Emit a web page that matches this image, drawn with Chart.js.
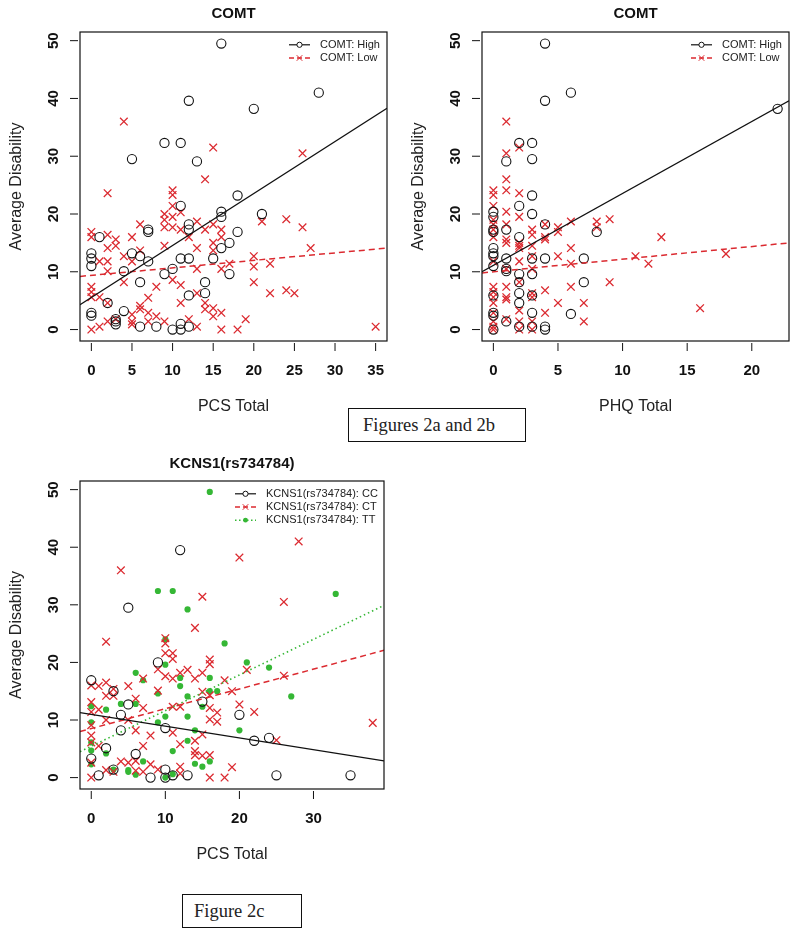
<!DOCTYPE html>
<html><head><meta charset="utf-8">
<script src="https://cdn.jsdelivr.net/npm/chart.js@4/dist/chart.umd.min.js"></script>
<style>
html,body{margin:0;padding:0;background:#fff;}
body{width:800px;height:937px;position:relative;overflow:hidden;}
canvas{position:absolute;}
.cap{position:absolute;border:1px solid #111;font-family:"Liberation Serif","Times New Roman",serif;font-size:18.5px;color:#222;background:#fff;box-sizing:border-box;line-height:22px;}
</style></head><body>
<canvas id="c1" width="400" height="420" style="left:0;top:0;width:400px;height:420px"></canvas>
<canvas id="c2" width="400" height="420" style="left:400px;top:0;width:400px;height:420px"></canvas>
<canvas id="c3" width="400" height="420" style="left:0;top:450px;width:400px;height:420px"></canvas>
<div class="cap" style="left:348px;top:408px;width:178px;height:34px;padding:5px 0 0 14px">Figures 2a and 2b</div>
<div class="cap" style="left:182px;top:894px;width:120px;height:34px;padding:5px 0 0 11px">Figure 2c</div>
<script>
// ---------- Data ----------
// Panel 2a: COMT vs PCS Total
const pcsHighX = [16,12,28,20,5,9,11,13,18,11,16,16,21,12,12,18,7,7,1,17,16,0,0,0,5,6,7,11,12,15,4,10,9,17,6,14,14,12,2,0,0,4,3,3,3,6,8,10,11,11,12];
const pcsHighY = [49.5,39.6,41,38.2,29.5,32.3,32.3,29.1,23.2,21.4,20.4,19.5,20,18.2,17.3,16.9,17.3,16.9,16,15,14.1,13.2,12.3,11,13.2,12.7,11.8,12.3,12.3,12.3,10.1,10.5,9.6,9.6,8.2,8.2,6.3,5.9,4.6,2.9,2.4,3.2,1.8,1.4,0.9,0.5,0.5,0,1,0,0.5];
const pcsLowX = [4,15,26,14,2,10,10,10,9,9,9,10,11,10,11,13,14,15,16,24,21,26,0,0,2,5,6,12,16,15,3,3,2,9,13,15,27,1,2,4,5,6,17,20,20,22,16,13,2,0,0,0,4,8,10,11,20,22,24,25,1,2,6,6,7,11,13,14,14,15,15,16,0,1,2,3,5,5,7,7,8,9,12,13,16,18,19,35,5];
const pcsLowY = [36,31.5,30.5,26,23.6,24.1,23.3,21.4,20,19,17.7,19.5,20.3,17.7,17.3,18.7,17.3,18.2,17.3,19.1,18.7,17.7,16.9,16,16.4,16,18.2,16,16,15,15.6,14.5,14.1,14.5,14.1,13.7,14.1,11.8,11.8,12.7,11.8,13.7,11.4,12.7,10.9,11.4,10.5,10.5,10.1,7.4,6.5,5.6,8.2,7.4,8.6,7.7,8.2,6.3,6.8,6.3,5.6,4.6,4.1,3.5,5.5,4.6,6.3,4.6,3.5,3.7,2.3,2.9,0,0.5,1.4,1.8,1.4,0.9,2.9,1.4,2.3,1.4,1.8,0.5,0,0,1.8,0.5,2.6];
const pcsFitX = [-1.4, 36.4];
const pcsFitHighY = [4.3, 38.3];
const pcsFitLowY = [9.2, 14.1];

// Panel 2b: COMT vs PHQ Total
const phqHighX = [4,4,6,22,2,3,1,3,3,2,0,0,3,4,1,0,0,8,2,0,0,0,1,3,4,7,0,1,1,2,3,2,7,2,3,0,2,0,0,3,6,1,2,3,4,4,0];
const phqHighY = [49.5,39.6,41,38.2,32.3,32.3,29.1,29.5,23.2,21.4,20.4,19.5,20,18.2,17.3,17.3,16.9,16.9,16,14.1,13.2,12.7,12.3,12.3,12.3,12.3,11,10.5,10.1,9.6,9.6,8.2,8.2,6.3,5.9,5.9,4.6,2.9,2.4,2.9,2.7,1.4,0.5,0.5,0.5,0,0];
const phqLowX = [1,1,2,1,0,0,1,2,0,1,2,0,0,0,1,3,4,5,5,6,8,8,9,13,0,1,3,4,4,2,2,2,3,1,6,0,2,3,5,11,12,18,6,1,3,0,0,0,0,1,1,1,3,3,4,6,9,2,5,7,16,0,0,0,1,2,2,2,3,3,4,7,0];
const phqLowY = [36,30.5,31.5,26,24.1,23.3,24.1,23.6,21.4,20.4,19.5,19,18.2,17.3,18.2,17.3,18.2,17.7,16.9,18.7,18.7,17.7,19.1,16,16,15.6,16.4,16,15.6,15,14.5,14.1,14.5,15,14.1,11.8,11.8,12.7,12.7,12.7,11.4,13.1,11.4,10.5,10.5,7.4,6.5,5.6,4.6,7.4,5.6,5.2,6.3,5.6,6.8,7.4,8.2,8.2,4.6,4.6,3.7,2.9,1.4,0.5,1.8,3.3,1.4,0,1.4,0,2.9,1.4,0];
const phqFitX = [-0.88, 22.88];
const phqFitHighY = [10, 39.6];
const phqFitLowY = [9.8, 15];

// Panel 2c: KCNS1(rs734784) vs PCS Total
const kcCCX = [12,5,0,3,9,5,4,4,0,2,6,10,15,20,22,24,1,3,8,10,10,11,13,25,35];
const kcCCY = [39.5,29.5,16.9,15,20,12.7,10.9,8.2,3.3,5.1,4.1,8.6,13.2,10.9,6.4,6.9,0.4,1.4,0,1.4,0,0.4,0.4,0.4,0.4];
const kcCTX = [28,20,4,15,26,14,2,10,10,11,11,10,9,10,11,12,13,14,15,16,16,18,21,26,0,0,0,1,2,3,2,5,7,9,15,16,19,1,3,6,7,11,12,16,17,20,22,38,2,0,0,0,5,6,8,11,12,15,17,16,25,0,0,1,4,5,6,7,8,9,2,3,14,14,14,15,16,12,12,16,18,19,7,6];
const kcCTY = [41,38.2,36,31.4,30.5,26,23.6,24.2,23.3,21.6,20.6,21.6,18.8,17.6,17.2,18.2,18.7,17.2,18.2,20.5,19.7,16.9,18.7,17.7,16,13.1,11.4,15.9,16.5,15.4,14.2,15.9,17.2,15.1,14.9,14.3,15,11.8,14.2,13.7,12.1,12.3,12.3,12.1,11.3,12.7,11.4,9.5,10,9.1,7.3,6.1,10,8.2,7.3,7.8,5.8,7.5,9.7,10.1,6.5,2.6,0,5.5,2.8,2.6,2.9,5.5,2.3,1.4,1.3,1.0,6.4,4.6,3.9,3.8,3.9,1.9,0.7,0,0,1.8,1,1.2];
const kcTTX = [16,9,11,33,13,18,10,21,24,10,6,7,12,16,12,17,16,9,13,27,15,0,2,4,6,0,10,13,9,20,14,13,11,0,0,2,7,14,15,16,5,5,6,3,11,10,0];
const kcTTY = [49.6,32.4,32.4,31.9,29.2,23.3,24,20,19.1,19.6,18.2,16.9,17.3,17.3,15.9,15,15,14.6,14.1,14.1,12.3,12.4,11.8,12.8,12.8,9.6,10.6,10.6,9.6,8.2,8.2,6.4,4.6,6.1,4.7,4.2,2.8,2.4,1.9,2.8,1.3,1.0,0.5,1.4,0.6,0,2.3];
const kcFitX = [-1.52, 39.52];
const kcFitCCY = [11.3, 2.9];
const kcFitCTY = [8.0, 22.1];
const kcFitTTY = [4.5, 29.9];

// Labels and ticks
const titles = ['COMT', 'COMT', 'KCNS1(rs734784)'];
const xTitles = ['PCS Total', 'PHQ Total', 'PCS Total'];
const yTitle = 'Average Disability';
const comtLabels = ['COMT: High', 'COMT: Low'];
const kcLabels = ['KCNS1(rs734784): CC', 'KCNS1(rs734784): CT', 'KCNS1(rs734784): TT'];
const xTicksPcs = [0,5,10,15,20,25,30,35];
const xTicksPhq = [0,5,10,15,20];
const xTicksKc = [0,10,20,30];
const yTicks = [0,10,20,30,40,50];

// ---------- Styling ----------
const RED = '#db2a30', GREEN = '#35b735', BLACK = '#111';
const SANS = '"Liberation Sans", Arial, Helvetica, sans-serif';
const pts = (xs, ys) => xs.map((x, i) => ({x, y: ys[i]}));

const styles = {
  high: {pointStyle:'circle', pointRadius:4.6, borderColor:BLACK, backgroundColor:'rgba(0,0,0,0)', borderWidth:1.1},
  low:  {pointStyle:'crossRot', pointRadius:5.4, borderColor:RED, backgroundColor:RED, borderWidth:1.3},
  tt:   {pointStyle:'circle', pointRadius:3.1, borderColor:GREEN, backgroundColor:GREEN, borderWidth:0}
};
function scatterSet(label, xs, ys, st) {
  return Object.assign({label, data: pts(xs, ys), showLine:false, pointHoverRadius: st.pointRadius}, st);
}
function fitSet(xs, ys, color, dash, width) {
  return {label:'fit', data: pts(xs, ys), showLine:true, pointRadius:0, pointHoverRadius:0,
          borderColor:color, backgroundColor:color, borderWidth:width, borderDash:dash, fill:false};
}

const rStyle = {
  id: 'rStyle',
  afterDraw(chart, args, o) {
    const ctx = chart.ctx, a = chart.chartArea, xs = chart.scales.x, ys = chart.scales.y;
    ctx.save();
    const line = (x1, y1, x2, y2) => { ctx.beginPath(); ctx.moveTo(x1, y1); ctx.lineTo(x2, y2); ctx.stroke(); };
    ctx.strokeStyle = BLACK; ctx.lineWidth = 1.2; ctx.setLineDash([]);
    ctx.strokeRect(a.left, a.top, a.right - a.left, a.bottom - a.top);
    ctx.fillStyle = BLACK; ctx.lineWidth = 1;
    ctx.font = 'bold 15px ' + SANS;
    ctx.textAlign = 'center'; ctx.textBaseline = 'middle';
    o.xTicks.forEach(v => {
      const px = xs.getPixelForValue(v);
      line(px, a.bottom + 2, px, a.bottom + 10);
      ctx.fillText(String(v), px, a.bottom + 30);
    });
    o.yTicks.forEach(v => {
      const py = ys.getPixelForValue(v);
      line(a.left - 2, py, a.left - 10, py);
      ctx.save(); ctx.translate(a.left - 26, py); ctx.rotate(-Math.PI / 2);
      ctx.fillText(String(v), 0, 0); ctx.restore();
    });
    // titles
    const cx = (a.left + a.right) / 2;
    ctx.font = 'bold 15px ' + SANS;
    ctx.fillText(o.title, cx, 14);
    ctx.font = '16px ' + SANS;
    ctx.fillStyle = '#222';
    ctx.fillText(o.xTitle, cx, a.bottom + 66);
    ctx.save(); ctx.translate(a.left - 63, (a.top + a.bottom) / 2); ctx.rotate(-Math.PI / 2);
    ctx.fillText(o.yTitle, 0, 0); ctx.restore();
    // legend
    ctx.font = '11px ' + SANS; ctx.textAlign = 'left';
    o.legend.forEach((e, i) => {
      const y = a.top + 12.8 + i * 13.2, tx = a.left + o.legendDx;
      ctx.strokeStyle = e.color; ctx.fillStyle = e.color; ctx.lineWidth = e.width;
      ctx.setLineDash(e.dash);
      line(tx - 31, y, tx - 10, y);
      ctx.setLineDash([]); ctx.lineWidth = 1;
      const mx = tx - 20.5;
      if (e.marker === 'circle') { ctx.fillStyle = '#fff'; ctx.beginPath(); ctx.arc(mx, y, 2.6, 0, Math.PI * 2); ctx.fill(); ctx.stroke(); }
      else if (e.marker === 'cross') { line(mx - 2.8, y - 2.8, mx + 2.8, y + 2.8); line(mx - 2.8, y + 2.8, mx + 2.8, y - 2.8); }
      else { ctx.beginPath(); ctx.arc(mx, y, 2.4, 0, Math.PI * 2); ctx.fill(); }
      ctx.fillStyle = '#222';
      ctx.fillText(e.label, tx, y);
    });
    ctx.restore();
  }
};

function makeChart(id, datasets, xMin, xMax, pad, opts) {
  return new Chart(document.getElementById(id), {
    type: 'scatter',
    data: {datasets},
    options: {
      responsive: false, animation: false, events: [],
      layout: {padding: pad},
      scales: {
        x: {type:'linear', display:false, min:xMin, max:xMax},
        y: {type:'linear', display:false, min:-1.98, max:51.5}
      },
      plugins: {legend:{display:false}, tooltip:{enabled:false}, title:{display:false}, rStyle: opts}
    },
    plugins: [rStyle]
  });
}

const legHigh = {label: comtLabels[0], color: BLACK, dash: [], width: 1.2, marker: 'circle'};
const legLow = {label: comtLabels[1], color: RED, dash: [5, 3], width: 1.3, marker: 'cross'};

makeChart('c1', [
  fitSet(pcsFitX, pcsFitHighY, BLACK, [], 1.3),
  fitSet(pcsFitX, pcsFitLowY, RED, [6, 4], 1.5),
  scatterSet(comtLabels[0], pcsHighX, pcsHighY, styles.high),
  scatterSet(comtLabels[1], pcsLowX, pcsLowY, styles.low)
], -1.4, 36.4, {left:80, right:13, top:32, bottom:79},
{title: titles[0], xTitle: xTitles[0], yTitle, xTicks: xTicksPcs, yTicks, legendDx: 240, legend: [legHigh, legLow]});

makeChart('c2', [
  fitSet(phqFitX, phqFitHighY, BLACK, [], 1.3),
  fitSet(phqFitX, phqFitLowY, RED, [6, 4], 1.5),
  scatterSet(comtLabels[0], phqHighX, phqHighY, styles.high),
  scatterSet(comtLabels[1], phqLowX, phqLowY, styles.low)
], -0.88, 22.88, {left:82, right:11, top:32, bottom:79},
{title: titles[1], xTitle: xTitles[1], yTitle, xTicks: xTicksPhq, yTicks, legendDx: 240, legend: [legHigh, legLow]});

makeChart('c3', [
  fitSet(kcFitX, kcFitCCY, BLACK, [], 1.3),
  fitSet(kcFitX, kcFitCTY, RED, [6, 4], 1.5),
  fitSet(kcFitX, kcFitTTY, GREEN, [1.5, 3], 1.6),
  scatterSet(kcLabels[0], kcCCX, kcCCY, styles.high),
  scatterSet(kcLabels[1], kcCTX, kcCTY, styles.low),
  scatterSet(kcLabels[2], kcTTX, kcTTY, styles.tt)
], -1.52, 39.52, {left:80, right:16, top:31, bottom:81},
{title: titles[2], xTitle: xTitles[2], yTitle, xTicks: xTicksKc, yTicks, legendDx: 186, legend: [
  {label: kcLabels[0], color: BLACK, dash: [], width: 1.2, marker: 'circle'},
  {label: kcLabels[1], color: RED, dash: [5, 3], width: 1.3, marker: 'cross'},
  {label: kcLabels[2], color: GREEN, dash: [1.5, 2.5], width: 1.4, marker: 'dot'}
]});
</script>
</body></html>
